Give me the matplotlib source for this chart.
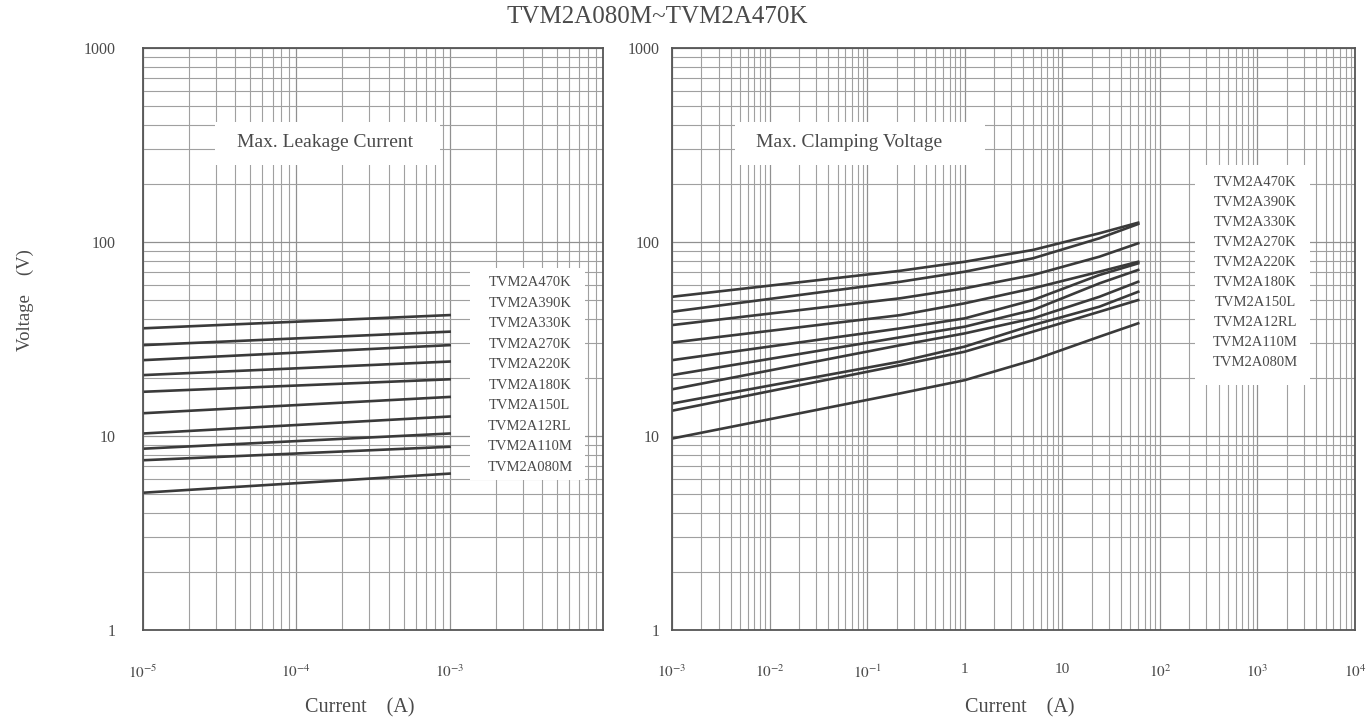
import matplotlib
matplotlib.use("Agg")
import matplotlib.pyplot as plt
from matplotlib.patches import Rectangle
from matplotlib.ticker import FixedLocator, LogLocator, NullFormatter

plt.rcParams["font.family"] = ["Liberation Serif", "DejaVu Serif"]
plt.rcParams["mathtext.fontset"] = "stix"

# -----------------------------
# Data
# -----------------------------
models = ["TVM2A470K", "TVM2A390K", "TVM2A330K", "TVM2A270K", "TVM2A220K",
          "TVM2A180K", "TVM2A150L", "TVM2A12RL", "TVM2A110M", "TVM2A080M"]

# max. leakage current panel: voltage at 10uA and at 1mA, one entry per model
leak_current = [1e-5, 1e-3]
leak_v_start = [35.9, 29.4, 24.6, 20.6, 16.9, 13.1, 10.3, 8.6, 7.5, 5.1]
leak_v_end = [42.0, 34.5, 29.4, 24.2, 19.6, 15.9, 12.6, 10.3, 8.8, 6.4]

# max. clamping voltage panel
clamp_current = [1e-3, 0.22, 1.0, 5.0, 24.0, 60.0]
clamp_470K = [52.2, 71.1, 79.1, 91.0, 110.9, 125.8]
clamp_390K = [43.7, 62.4, 70.3, 82.4, 104.5, 123.8]
clamp_330K = [37.3, 51.3, 57.7, 67.6, 84.0, 98.5]
clamp_270K = [30.3, 42.0, 48.3, 57.7, 70.3, 79.1]
clamp_220K = [24.6, 35.9, 40.4, 50.2, 67.6, 77.6]
clamp_180K = [20.6, 32.3, 36.6, 44.6, 61.2, 71.8]
clamp_150L = [17.4, 29.4, 33.8, 40.4, 52.2, 62.4]
clamp_12RL = [14.7, 24.2, 28.9, 37.3, 46.4, 55.4]
clamp_110M = [13.5, 23.2, 27.2, 34.5, 43.7, 50.2]
clamp_080M = [9.7, 16.6, 19.4, 24.6, 32.5, 38.1]
clamp_series = [clamp_470K, clamp_390K, clamp_330K, clamp_270K, clamp_220K,
                clamp_180K, clamp_150L, clamp_12RL, clamp_110M, clamp_080M]

left_xticks = [1e-5, 1e-4, 1e-3]
left_xlabels = ["$10^{-5}$", "$10^{-4}$", "$10^{-3}$"]
right_xticks = [1e-3, 1e-2, 1e-1, 1, 10, 1e2, 1e3, 1e4]
right_xlabels = ["$10^{-3}$", "$10^{-2}$", "$10^{-1}$", "1", "10",
                 "$10^{2}$", "$10^{3}$", "$10^{4}$"]
yticks = [1, 10, 100, 1000]
ylabels = ["1", "10", "100", "1000"]

TXT = "#4a4a4a"
LINE = "#3a3a3a"
GRID = "#a0a0a0"

W, H = 1369, 721
fig = plt.figure(figsize=(W / 100, H / 100), dpi=100)
ax1 = fig.add_axes([143 / W, 1 - 630 / H, 460 / W, 582 / H])
ax2 = fig.add_axes([672 / W, 1 - 630 / H, 683 / W, 582 / H])


def style_axes(ax, xlim, xticks, xlabels, ypad):
    ax.set_xscale("log")
    ax.set_yscale("log")
    ax.set_xlim(*xlim)
    ax.set_ylim(1, 1000)
    ax.set_axisbelow(True)
    ax.xaxis.set_major_locator(FixedLocator(xticks))
    ax.set_xticklabels(xlabels)
    ax.xaxis.set_minor_locator(LogLocator(base=10, subs=range(2, 10), numticks=20))
    ax.xaxis.set_minor_formatter(NullFormatter())
    ax.yaxis.set_major_locator(FixedLocator(yticks))
    ax.set_yticklabels(ylabels)
    ax.yaxis.set_minor_locator(LogLocator(base=10, subs=range(2, 10), numticks=20))
    ax.yaxis.set_minor_formatter(NullFormatter())
    ax.grid(True, which="major", color="#909090", lw=0.9)
    ax.grid(True, which="minor", color=GRID, lw=0.8)
    ax.tick_params(which="both", length=0, colors=TXT)
    ax.tick_params(axis="x", labelsize=11, pad=24)
    ax.tick_params(axis="y", labelsize=11.5, pad=ypad)
    for s in ax.spines.values():
        s.set_color("#555555")
        s.set_linewidth(1.3)


def white_box(ax, x0, y0, x1, y1):
    ax.add_patch(Rectangle((x0, y0), x1 - x0, y1 - y0, transform=ax.transAxes,
                           facecolor="white", edgecolor="none", zorder=1))


# 1) Max. leakage current
style_axes(ax1, (1e-5, 1e-2), left_xticks, left_xlabels, 20)
white_box(ax1, 0.157, 0.799, 0.646, 0.873)
white_box(ax1, 0.711, 0.258, 0.961, 0.622)
for v0, v1 in zip(leak_v_start, leak_v_end):
    ax1.plot(leak_current, [v0, v1], color=LINE, lw=1.9, zorder=2)
ax1.text(0.396, 0.838, "Max. Leakage Current", transform=ax1.transAxes,
         ha="center", va="center", fontsize=14, color=TXT, zorder=3)
for i, m in enumerate(models):
    ax1.text(0.841, (630 - 283 - i * 20.5) / 582, m, transform=ax1.transAxes,
             ha="center", va="center", fontsize=10.5, color=TXT, zorder=3)

# 2) Max. clamping voltage
style_axes(ax2, (1e-3, 1e4), right_xticks, right_xlabels, 9)
white_box(ax2, 0.092, 0.799, 0.458, 0.873)
white_box(ax2, 0.766, 0.421, 0.934, 0.799)
for vals in clamp_series:
    ax2.plot(clamp_current, vals, color=LINE, lw=1.9, zorder=2)
ax2.text(0.259, 0.838, "Max. Clamping Voltage", transform=ax2.transAxes,
         ha="center", va="center", fontsize=14, color=TXT, zorder=3)
for i, m in enumerate(models):
    ax2.text(0.854, (630 - 182 - i * 20.1) / 582, m, transform=ax2.transAxes,
             ha="center", va="center", fontsize=10.5, color=TXT, zorder=3)

fig.text(657 / W, 1 - 17 / H, "TVM2A080M~TVM2A470K", ha="center", va="center",
         fontsize=18, color=TXT)
fig.text(25 / W, 1 - 300 / H, "Voltage    (V)", rotation=90, ha="center",
         va="center", fontsize=13.5, color=TXT)
fig.text(360 / W, 1 - 708 / H, "Current    (A)", ha="center", va="center",
         fontsize=14.5, color=TXT)
fig.text(1020 / W, 1 - 708 / H, "Current    (A)", ha="center", va="center",
         fontsize=14.5, color=TXT)

fig.savefig("out.png", dpi=100)
